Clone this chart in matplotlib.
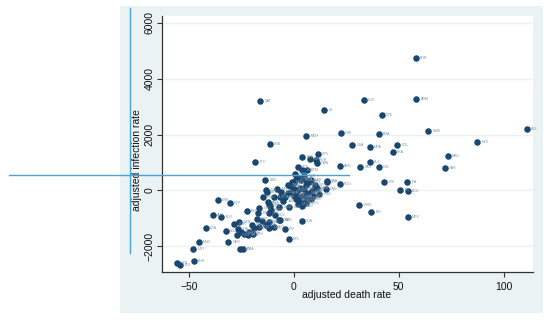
import matplotlib
matplotlib.use('Agg')
import matplotlib.pyplot as plt
from matplotlib.lines import Line2D
from matplotlib.patches import Rectangle

plt.rcParams['font.family'] = ['Liberation Sans', 'DejaVu Sans']

# country codes, adjusted death rate, adjusted infection rate
codes = ['BHR', 'ARM', 'LUX', 'QAT', 'ISL', 'CZE', 'SWE', 'BEL', 'BRA', 'CHE',
         'MDV', 'NLD', 'COL', 'USA', 'MDA', 'FRA', 'SRB', 'LTU', 'CPV', 'BGR',
         'KWT', 'PER', 'OMN', 'ARG', 'BLZ', 'PAN', 'CHL', 'MKD', 'GBR', 'ROU',
         'CRI', 'ITA', 'IRL', 'ECU', 'HUN', 'BIH', 'MEX', 'LBN', 'MAR', 'TUN',
         'CIV', 'NPL', 'DNK', 'CYP', 'EST', 'AUT', 'BLR', 'DZA', 'MNG', 'GEO',
         'URY', 'NIC', 'GHA', 'BHS', 'SYR', 'BDI', 'AZE', 'BOL', 'GTM', 'IRN',
         'KAZ', 'ALB', 'UKR', 'POL', 'PRT', 'CAN', 'HND', 'IRQ', 'EGY', 'JOR',
         'LBY', 'TUR', 'SAU', 'RUS', 'GRC', 'FIN', 'AUS', 'JPN', 'NOR', 'KOR',
         'MNE', 'SGP', 'LKA', 'MYS', 'KGZ', 'THA', 'CHN', 'VNM', 'IDN', 'PHL',
         'IND', 'BGD', 'PAK', 'KEN', 'ETH', 'CUB', 'SLV', 'DOM', 'JAM', 'ARE',
         'DEU', 'AUT', 'ISR', 'HRV', 'SVK', 'LVA', 'ZAF', 'NAM', 'BWA', 'GAB',
         'PRY', 'VEN', 'UZB', 'TJK', 'ARM', 'SUR', 'GUY', 'TTO', 'BRB', 'FJI',
         'MLT', 'MUS', 'SYC', 'CMR', 'SEN', 'NGA', 'SDN', 'ZMB', 'ZWE', 'MOZ',
         'AGO', 'COG', 'TGO', 'BEN', 'MLI', 'NER', 'TCD', 'GIN', 'SLE', 'LBR']
death_rate = [58.1, 58.4, 33.2, -16.0, 14.6, 41.9, 64.1, 111.0, 40.6, 22.5,
              6.0, 87.5, 49.4, 27.9, 36.3, 47.1, -11.4, -18.4, 11.4, 4.1,
              7.6, 10.5, 10.8, 22.0, 36.2, 31.6, 40.6, 73.5, 72.0, 22.0,
              43.2, 54.1, 50.6, 54.4, 31.1, 37.0, 54.3, -13.7, -6.5, 3.8,
              -4.3, -2.4, -36.3, -30.5, -22.5, -38.7, -34.6, -41.9, -45.4, -31.3,
              -47.9, -25.6, -24.3, -47.8, -55.7, -54.1, 2.0, 4.1, 6.2, 0.6,
              3.3, 5.7, 8.1, 15.9, 15.6, 15.4, 12.1, 7.0, -2.2, -13.3,
              -12.9, -9.4, -6.5, -14.9, -16.5, -17.0, -12.2, -11.3, -11.0, -28.4,
              -26.0, -17.6, -13.3, -11.8, -32.4, -26.8, -27.0, -23.7, -21.3, -18.9,
              -16.5, -25.0, -20.0, -22.0, -19.5, -15.0, -9.0, -7.0, -5.0, -3.0,
              -1.0, 0.0, 1.0, 2.0, 3.0, 4.0, 5.0, 6.0, 8.0, 9.0,
              10.0, -2.0, 0.0, 1.0, 2.0, 3.0, 4.0, 5.0, 6.0, -4.0,
              -1.0, 3.0, 5.0, 7.0, 9.0, 11.0, 1.0, -3.0, 0.0, 2.0,
              4.0, 6.0, 8.0, -6.0, -8.0, -12.0, -9.4, -7.0, -12.0, -12.0]
infection_rate = [4750, 3290, 3250, 3210, 2890, 2690, 2130, 2180, 2020, 2040,
                  1940, 1730, 1630, 1630, 1550, 1360, 1650, 1010, 1300, 1190,
                  1110, 1070, 975, 860, 1020, 820, 820, 1230, 800, 240,
                  310, 310, 25, -35, -510, -770, -950, 360, -1070, -1100,
                  -1400, -1750, -360, -440, -740, -890, -960, -1360, -1870, -1860,
                  -2110, -2110, -2110, -2550, -2620, -2680, 830, 740, 710, 600,
                  360, 380, 360, 320, 285, 60, -130, -270, -600, 25,
                  -60, -225, -225, -240, -620, -830, -420, -570, -710, -1215,
                  -1140, -1020, -1250, -1370, -1460, -1400, -1610, -1550, -1490, -1370,
                  -1300, -1480, -1250, -1620, -1560, -1100, -900, -600, -400, -100,
                  -50, 50, -150, 0, 100, -200, 50, -100, -50, 0,
                  200, 150, 250, -300, -350, -250, -400, -300, 200, -250,
                  300, 450, 500, 300, -200, 100, 400, 200, -200, -500,
                  -550, -450, -300, -50, 50, -475, -1330, -1070, -810, -1130]

fig = plt.figure(figsize=(5.5, 3.2), dpi=100)
fig.patch.set_facecolor('white')
fig.add_artist(Rectangle((0.218, 0.022), 0.769, 0.959, transform=fig.transFigure,
                         facecolor='#eaf2f3', edgecolor='none', zorder=0))

ax = fig.add_axes([0.2945, 0.15, 0.6745, 0.80])
ax.set_facecolor('white')
ax.scatter(death_rate, infection_rate, s=22, color='#1a476f', zorder=3, linewidths=0)
for c, xv, yv in zip(codes, death_rate, infection_rate):
    ax.annotate(c, (xv, yv), xytext=(3, 0), textcoords='offset points',
                fontsize=2.6, color='#7a93a8', va='center', ha='left', zorder=4)

ax.set_xlim(-62.9, 114)
ax.set_ylim(-2930, 6250)
ax.set_xticks([-50, 0, 50, 100])
ax.set_yticks([-2000, 0, 2000, 4000, 6000])
ax.grid(axis='y', color='#eaf2f3', linewidth=1.0, zorder=0)
ax.set_axisbelow(True)
for s in ['top', 'right']:
    ax.spines[s].set_visible(False)
for s in ['left', 'bottom']:
    ax.spines[s].set_color('#333333')
    ax.spines[s].set_linewidth(0.9)
ax.tick_params(length=3.5, width=0.8, color='#333333', labelsize=7.5, labelcolor='#111111')
ax.tick_params(axis='y', labelrotation=90, pad=2)
for t in ax.get_yticklabels():
    t.set_va('center')

fig.text(0.249, 0.5, 'adjusted infection rate', rotation=90, ha='center', va='center',
         fontsize=7.5, color='#111111')
fig.text(0.631, 0.078, 'adjusted death rate', ha='center', va='center',
         fontsize=7.5, color='#111111')

# stray guide lines over the figure
fig.add_artist(Line2D([9 / 550, 349 / 550], [1 - 175 / 320, 1 - 175 / 320],
                      transform=fig.transFigure, color='#4aa3d6', linewidth=1.0, zorder=10))
fig.add_artist(Line2D([130 / 550, 130 / 550], [1 - 8 / 320, 1 - 253 / 320],
                      transform=fig.transFigure, color='#4aa3d6', linewidth=1.0, zorder=10))

fig.savefig('out.png', dpi=100)
